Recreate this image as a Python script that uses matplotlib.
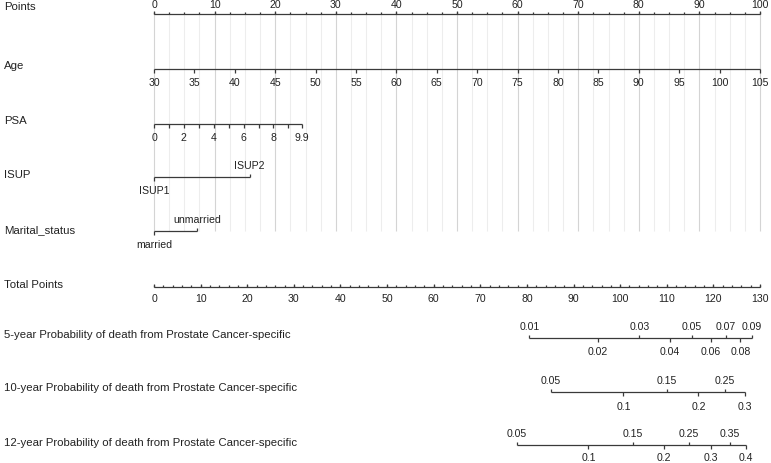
import matplotlib
matplotlib.use("Agg")
import matplotlib.pyplot as plt
import numpy as np

plt.rcParams['font.family'] = ['Liberation Sans', 'DejaVu Sans']

# ---------------- data ----------------
row_labels = ["Points", "Age", "PSA", "ISUP", "Marital_status", "Total Points",
              "5-year Probability of death from Prostate Cancer-specific",
              "10-year Probability of death from Prostate Cancer-specific",
              "12-year Probability of death from Prostate Cancer-specific"]

points_ticks = list(range(0, 101, 10))
points_minor = list(np.arange(0, 100.1, 2.5))

age_ticks = list(range(30, 106, 5))
age_min, age_max = 30, 105
age_max_points = 100.0

psa_ticks = [0, 1, 2, 3, 4, 5, 6, 7, 8, 9, 9.9]
psa_labels = ["0", "", "2", "", "4", "", "6", "", "8", "", "9.9"]
psa_max = 9.9
psa_max_points = 24.4

isup_levels = ["ISUP1", "ISUP2"]
isup_points = [0.0, 15.8]

marital_levels = ["married", "unmarried"]
marital_points = [0.0, 7.1]

total_ticks = list(range(0, 131, 10))
total_minor = list(range(0, 131, 2))
total_max = 130.0

p5_values = ["0.01", "0.02", "0.03", "0.04", "0.05", "0.06", "0.07", "0.08", "0.09"]
p5_points = [80.5, 95.3, 104.1, 110.6, 115.4, 119.4, 122.7, 125.8, 128.3]

p10_values = ["0.05", "0.1", "0.15", "0.2", "0.25", "0.3"]
p10_points = [85.2, 100.7, 110.0, 116.8, 122.4, 126.8]

p12_values = ["0.05", "0.1", "0.15", "0.2", "0.25", "0.3", "0.35", "0.4"]
p12_points = [77.8, 93.2, 102.7, 109.4, 114.8, 119.4, 123.6, 127.0]

# ---------------- layout ----------------
W, H = 771, 464
x0_px, x100_px = 154, 760
ppx = (x100_px - x0_px) / 100.0

fig = plt.figure(figsize=(W / 100, H / 100), dpi=100)
ax = fig.add_axes([0, 0, 1, 1])
ax.set_xlim(-x0_px / ppx, (W - x0_px) / ppx)
ax.set_ylim(H, 0)
ax.axis("off")

row_y = [15, 70, 125, 178, 232, 288, 339, 393, 446]
label_y = [7, 66, 121, 175, 230, 285, 335, 388, 443]
line_c = "#3a3a3a"
text_c = "#222222"
lw = 0.9
tick_len = 3.5
fs_lab = 8.2
fs_tick = 7.6

label_x = -x0_px / ppx + 4 / ppx
for lab, y in zip(row_labels, label_y):
    ax.text(label_x, y, lab, ha="left", va="center", fontsize=fs_lab, color=text_c)

# gridlines
for v in points_minor:
    col = "#d4d4d4" if abs(v % 10) < 1e-6 else "#ededed"
    ax.vlines(v, row_y[0], row_y[4], color=col, lw=0.8, zorder=0)


def axis_line(xs, y):
    ax.plot([min(xs), max(xs)], [y, y], color=line_c, lw=lw, solid_capstyle="butt")


def ticks(xs, y, up, length=tick_len):
    for x in xs:
        ax.vlines(x, y - length if up else y, y if up else y + length, color=line_c, lw=lw)


# Points
axis_line([0, 100], row_y[0])
ticks(points_minor, row_y[0], True, 2.5)
ticks(points_ticks, row_y[0], True)
for t in points_ticks:
    ax.text(t, row_y[0] - 9.5, str(t), ha="center", va="center", fontsize=fs_tick, color=text_c)

# Age
age_pos = [(a - age_min) / (age_max - age_min) * age_max_points for a in age_ticks]
axis_line(age_pos, row_y[1])
ticks(age_pos, row_y[1], False)
for a, p in zip(age_ticks, age_pos):
    ax.text(p, row_y[1] + 13, str(a), ha="center", va="center", fontsize=fs_tick, color=text_c)

# PSA
psa_pos = [v / psa_max * psa_max_points for v in psa_ticks]
axis_line(psa_pos, row_y[2])
ticks(psa_pos, row_y[2], False)
for l, p in zip(psa_labels, psa_pos):
    if l:
        ax.text(p, row_y[2] + 13, l, ha="center", va="center", fontsize=fs_tick, color=text_c)


def cat_axis(levels, pts, y):
    axis_line(pts, y)
    for i, (l, p) in enumerate(zip(levels, pts)):
        up = (i % 2 == 1)
        ticks([p], y, up)
        ax.text(p, y - 12 if up else y + 13, l, ha="center", va="center",
                fontsize=fs_tick, color=text_c)


cat_axis(isup_levels, isup_points, row_y[3])
cat_axis(marital_levels, marital_points, row_y[4])

# Total points
tp = lambda v: v / total_max * 100.0
axis_line([tp(v) for v in total_ticks], row_y[5])
ticks([tp(v) for v in total_minor], row_y[5], True, 2.2)
ticks([tp(v) for v in total_ticks], row_y[5], True, 3.0)
for t in total_ticks:
    ax.text(tp(t), row_y[5] + 11, str(t), ha="center", va="center", fontsize=fs_tick, color=text_c)


def prob_axis(vals, pts, y, below_off):
    pos = [tp(v) for v in pts]
    axis_line(pos, y)
    for i, (l, p) in enumerate(zip(vals, pos)):
        up = (i % 2 == 0)
        ticks([p], y, up)
        ax.text(p, y - 12 if up else y + below_off, l, ha="center", va="center",
                fontsize=fs_tick, color=text_c)


prob_axis(p5_values, p5_points, row_y[6], 13.5)
prob_axis(p10_values, p10_points, row_y[7], 14.5)
prob_axis(p12_values, p12_points, row_y[8], 12.5)

fig.savefig("out.png", dpi=100)
